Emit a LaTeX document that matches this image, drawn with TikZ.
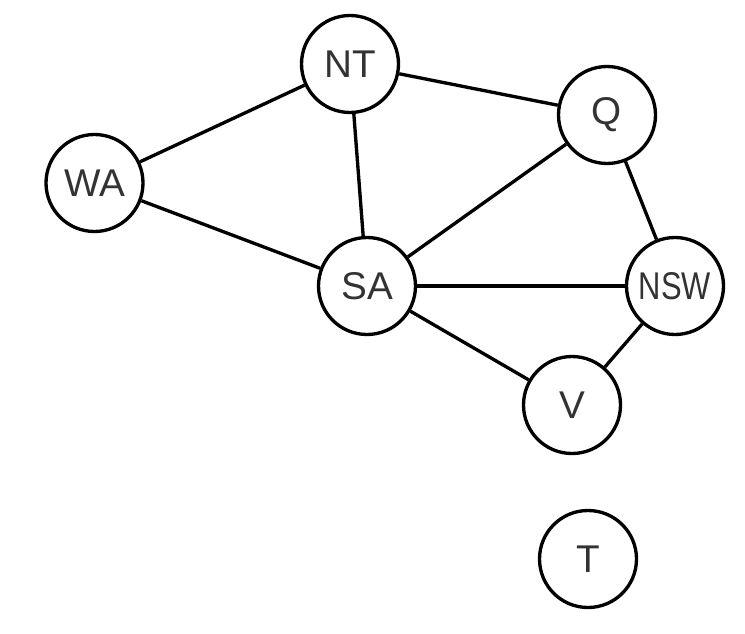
\documentclass[tikz,border=0pt]{standalone}
\usepackage{fontspec}
\setmainfont{Liberation Sans}
\usepackage{tikz}
\usetikzlibrary{positioning}

\begin{document}
\begin{tikzpicture}
    \tikzset{
        region/.style={draw, circle, line width=1.9pt, minimum size=1.94cm,
            inner sep=0pt, text=black!80, font=\fontsize{22}{26}\selectfont},
        border/.style={line width=1.9pt}
    }
    \useasboundingbox (0,0) rectangle (14.9,12.66);
    % regions
    \node[region] (NT)  at (7.0,11.38)  {NT};
    \node[region] (Q)   at (12.14,10.36) {Q};
    \node[region] (WA)  at (1.89,9.0)   {WA};
    \node[region] (SA)  at (7.34,6.94)  {SA};
    \node[region] (NSW) at (13.5,6.94)  {\scalebox{0.8}[1]{NSW}};
    \node[region] (V)   at (11.44,4.56) {V};
    \node[region] (T)   at (11.76,1.48) {T};
    % neighbours
    \draw[border] (WA) -- (NT);
    \draw[border] (WA) -- (SA);
    \draw[border] (NT) -- (SA);
    \draw[border] (NT) -- (Q);
    \draw[border] (SA) -- (Q);
    \draw[border, line width=2.8pt] (SA) -- (NSW);
    \draw[border] (SA) -- (V);
    \draw[border] (Q) -- (NSW);
    \draw[border] (NSW) -- (V);
\end{tikzpicture}
\end{document}
